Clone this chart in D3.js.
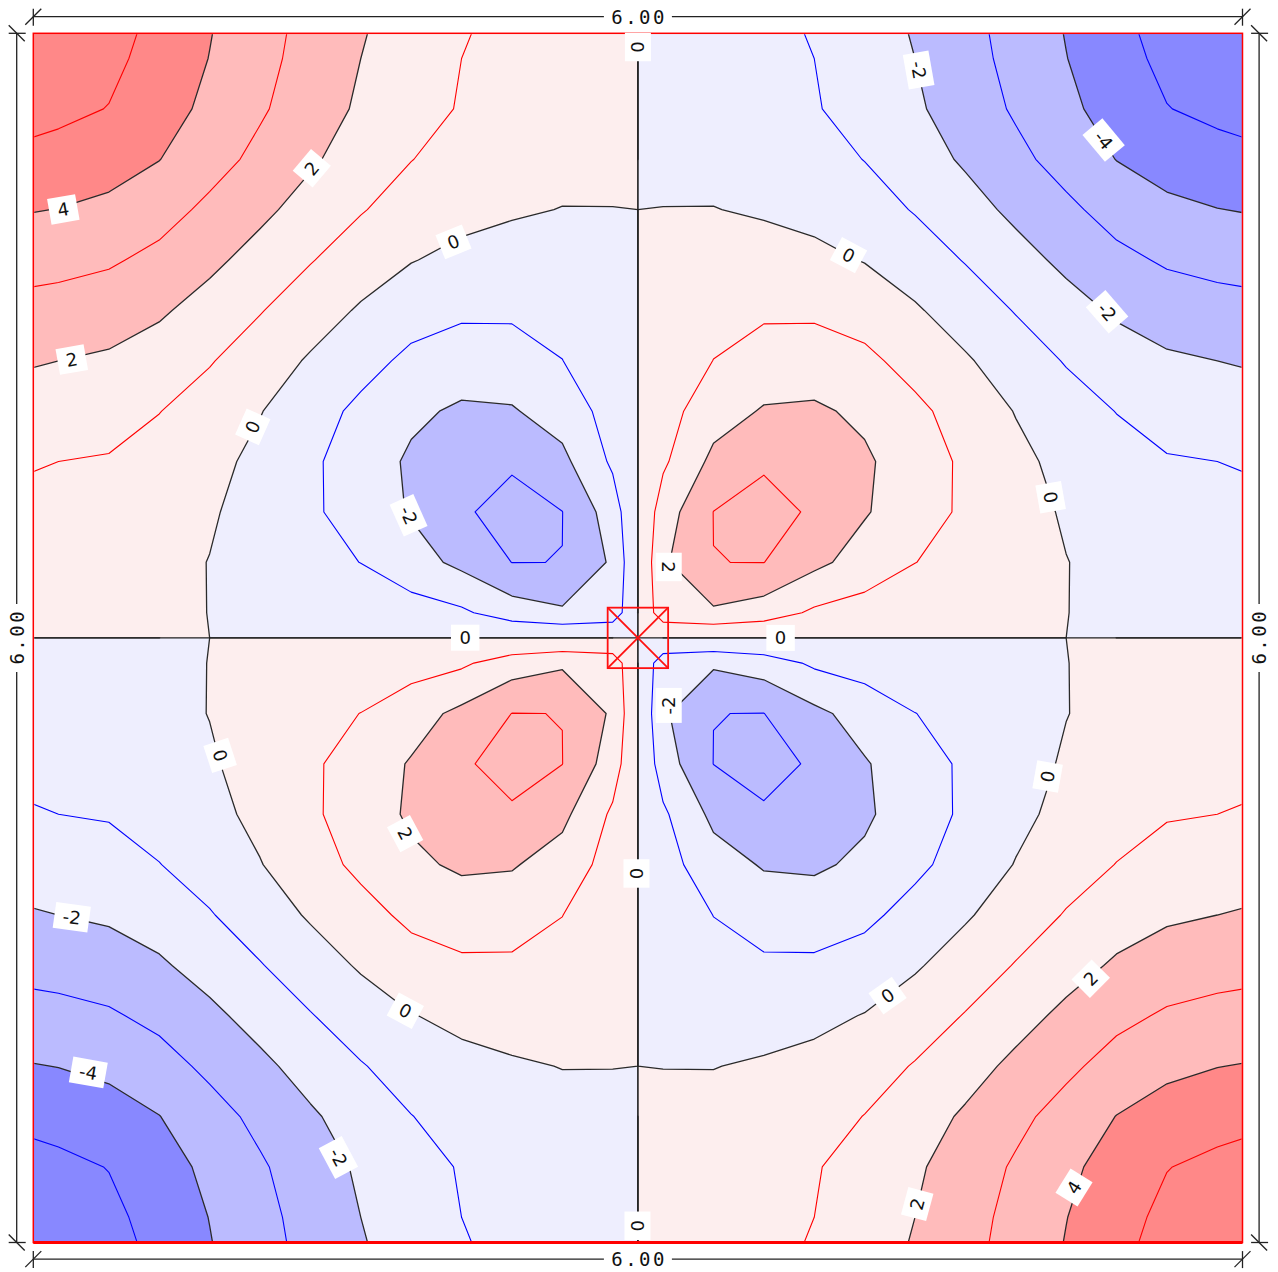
<!DOCTYPE html>
<html>
<head>
<meta charset="utf-8">
<script src="https://cdn.jsdelivr.net/npm/d3@7"></script>
<style>
	body { margin: 0; background: #fff; }
	svg { display: block; }
	.clabel text { font-family: "DejaVu Sans", sans-serif; font-size: 18px; fill: #111; }
	.dim text { font-family: "DejaVu Sans Mono", monospace; font-size: 19px; letter-spacing: 2.5px; fill: #111; }
</style>
</head>
<body>
<div id="chart"></div>
<script>
// plate and column, metres
var plateSize = 6.0;
var columnSize = 0.3;
var gridStep = 0.25;          // quarter values sit at cell centres
var dimText = "6.00";

// band limits and their colours (lowest band first)
var fillLevels = [-4, -2, 0, 2, 4];
var fillColours = ["#8888ff", "#bbbbff", "#eeeefe", "#fdeeee", "#ffbbbb", "#ff8888"];
var lineLevels = [-5, -4, -3, -2, -1, 0, 1, 2, 3, 4, 5];

// values read off the top-left quarter (row = from top, col = from left)
// the other quarters mirror it with the sign flipped across each axis,
// and the two centre lines are zero
var quarter = [
	[5.80, 5.25, 4.62, 3.98, 3.29, 2.64, 2.00, 1.50, 1.00, 0.74, 0.48, 0.15],
	[5.25, 4.97, 4.39, 3.79, 3.12, 2.47, 1.86, 1.37, 0.93, 0.67, 0.42, 0.13],
	[4.62, 4.39, 4.02, 3.38, 2.75, 2.13, 1.56, 1.02, 0.66, 0.44, 0.27, 0.08],
	[3.98, 3.79, 3.38, 2.79, 2.22, 1.62, 1.06, 0.60, 0.28, 0.10, -0.02, -0.005],
	[3.29, 3.12, 2.75, 2.22, 1.64, 1.05, 0.51, 0.04, -0.24, -0.37, -0.42, -0.16],
	[2.64, 2.47, 2.13, 1.62, 1.05, 0.48, -0.11, -0.61, -0.83, -0.84, -0.74, -0.28],
	[2.00, 1.86, 1.56, 1.06, 0.51, -0.11, -0.67, -1.21, -1.50, -1.44, -1.01, -0.42],
	[1.50, 1.37, 1.02, 0.60, 0.04, -0.61, -1.21, -1.82, -2.14, -2.08, -1.58, -0.60],
	[1.00, 0.93, 0.66, 0.28, -0.24, -0.83, -1.50, -2.14, -2.77, -2.78, -2.24, -0.84],
	[0.74, 0.67, 0.44, 0.10, -0.37, -0.84, -1.44, -2.08, -2.78, -3.60, -3.01, -1.50],
	[0.48, 0.42, 0.27, -0.02, -0.42, -0.74, -1.01, -1.58, -2.24, -3.01, -2.995, -1.85],
	[0.15, 0.13, 0.08, -0.005, -0.16, -0.28, -0.42, -0.60, -0.84, -1.50, -1.85, -1.60]
];

// values on the plate edge (top edge, corner outwards in), same on the left edge
var cornerValue = 6.10;
var edgeValues = [5.95, 5.37, 4.71, 4.04, 3.35, 2.69, 2.07, 1.55, 1.06, 0.76, 0.49, 0.16];

// contour labels: x, y (m), text, angle (deg)
var contourLabels = [
	[3.0, 0.068, "0", 90],
	[4.393, 0.182, "-2", 80],
	[5.311, 0.530, "-4", 50],
	[1.382, 0.670, "2", -50],
	[0.149, 0.874, "4", -10],
	[2.085, 1.035, "0", -22],
	[4.045, 1.101, "0", 28],
	[5.328, 1.382, "-2", 49],
	[0.191, 1.619, "2", -10],
	[1.089, 1.953, "0", -66],
	[5.048, 2.302, "0", 80],
	[1.862, 2.392, "-2", 66],
	[3.153, 2.648, "2", 90],
	[2.143, 2.999, "0", 0],
	[3.708, 3.000, "0", 0],
	[3.153, 3.335, "-2", -90],
	[0.927, 3.583, "0", 72],
	[5.033, 3.688, "0", -80],
	[1.845, 3.971, "2", 62],
	[2.993, 4.169, "0", 90],
	[0.191, 4.386, "-2", 8],
	[4.239, 4.775, "0", -35],
	[1.846, 4.850, "0", 28],
	[5.247, 4.691, "2", -45],
	[0.273, 5.156, "-4", 10],
	[1.514, 5.578, "-2", 62],
	[4.386, 5.809, "2", -75],
	[5.164, 5.727, "4", -58],
	[2.998, 5.917, "0", 90]
];

var width = 1278;
var height = 1272;
var eps = 1e-6;
var half = plateSize / 2;

var x = d3.scaleLinear().domain([0, plateSize]).range([33.3, 1242.5]);
var y = d3.scaleLinear().domain([0, plateSize]).range([33.3, 1242.5]);

var svg = d3.select("#chart")
	.append("svg")
	.attr("width", width)
	.attr("height", height);

// sample slots along one side: edge, quarter, centre line, mirrored quarter, edge
function buildSlots () {
	var n = quarter.length;
	var slots = [];
	slots.push({ kind: "edge", sign: 1, pos: 0 });
	for (var i = 0; i < n; i++) {
		slots.push({ kind: "q", q: i, sign: 1, pos: (i + 0.5) * gridStep });
	}
	slots.push({ kind: "axis", sign: 0, pos: half });
	for (var j = n - 1; j >= 0; j--) {
		slots.push({ kind: "q", q: j, sign: -1, pos: plateSize - (j + 0.5) * gridStep });
	}
	slots.push({ kind: "edge", sign: -1, pos: plateSize });
	return slots;
}

var slots = buildSlots();
var gridSize = slots.length;

function sampleAt (row, col) {
	if (row.kind === "axis" || col.kind === "axis") return 0;
	var s = row.sign * col.sign;
	if (row.kind === "edge" && col.kind === "edge") return s * cornerValue;
	if (row.kind === "edge") return s * edgeValues[col.q];
	if (col.kind === "edge") return s * edgeValues[row.q];
	return s * quarter[row.q][col.q];
}

function buildField () {
	var values = new Array(gridSize * gridSize);
	slots.forEach(function (row, r) {
		slots.forEach(function (col, c) {
			values[r * gridSize + c] = sampleAt(row, col);
		});
	});
	return values;
}

var values = buildField();

// grid coordinate (sample k at k + 0.5) -> metres, piecewise linear
var gridToPlate = d3.scaleLinear()
	.domain(slots.map(function (s, k) { return k + 0.5; }))
	.range(slots.map(function (s) { return s.pos; }));

var toPlate = d3.geoTransform({
	point: function (gx, gy) {
		this.stream.point(x(gridToPlate(gx)), y(gridToPlate(gy)));
	}
});
var path = d3.geoPath(toPlate);
var contourGen = d3.contours().size([gridSize, gridSize]);

// clips
var defs = svg.append("defs");
function addRect (sel, x0, y0, x1, y1) {
	sel.append("rect")
		.attr("x", x(x0)).attr("y", y(y0))
		.attr("width", x(x1) - x(x0))
		.attr("height", y(y1) - y(y0));
}
addRect(defs.append("clipPath").attr("id", "plate"), 0, 0, plateSize, plateSize);
defs.append("clipPath").attr("id", "inner")
	.append("rect")
	.attr("x", x(0) + 1).attr("y", y(0) + 1)
	.attr("width", x(plateSize) - x(0) - 2)
	.attr("height", y(plateSize) - y(0) - 2);

// the zero level lies on the centre lines: take it from below in the quarters
// with a negative ring, from above in the others (swapped next to the centre)
var cLo = half - gridStep / 2;
var cHi = half + gridStep / 2;
var zeroNeg = defs.append("clipPath").attr("id", "zeroNeg");
addRect(zeroNeg, 0, 0, half, cLo);
addRect(zeroNeg, 0, cLo, cLo, half);
addRect(zeroNeg, half, cHi, plateSize, plateSize);
addRect(zeroNeg, cHi, half, plateSize, cHi);
addRect(zeroNeg, half, cLo, cHi, half);
addRect(zeroNeg, cLo, half, half, cHi);
var zeroPos = defs.append("clipPath").attr("id", "zeroPos");
addRect(zeroPos, half, 0, plateSize, cLo);
addRect(zeroPos, cHi, cLo, plateSize, half);
addRect(zeroPos, 0, half, cLo, plateSize);
addRect(zeroPos, cLo, cHi, half, plateSize);
addRect(zeroPos, cLo, cLo, half, half);
addRect(zeroPos, half, half, cHi, cHi);

function levelPaths (parent, lv, attrs) {
	var parts = lv === 0
		? [[-eps, "url(#zeroNeg)"], [eps, "url(#zeroPos)"]]
		: [[lv, null]];
	parts.forEach(function (p) {
		var el = parent.append("path")
			.attr("d", path(contourGen.contour(values, p[0])));
		if (p[1]) el.attr("clip-path", p[1]);
		Object.keys(attrs).forEach(function (k) { el.attr(k, attrs[k]); });
	});
}

// bands
var bands = svg.append("g").attr("clip-path", "url(#plate)");
bands.append("rect")
	.attr("x", x(0)).attr("y", y(0))
	.attr("width", x(plateSize) - x(0))
	.attr("height", y(plateSize) - y(0))
	.attr("fill", fillColours[0]);

fillLevels.forEach(function (lv, i) {
	levelPaths(bands, lv, { "fill": fillColours[i + 1] });
});

// iso lines
var lines = svg.append("g").attr("clip-path", "url(#inner)");
lineLevels.forEach(function (lv) {
	var even = lv % 2 === 0;
	levelPaths(lines.append("g"), lv, {
		"fill": "none",
		"stroke": even ? "#2a2a2a" : (lv > 0 ? "#ff0000" : "#0000ff"),
		"stroke-width": even ? 1.3 : 1.1,
		"stroke-linejoin": "round"
	});
});

// zero along both centre lines
lines.append("line")
	.attr("x1", x(half)).attr("x2", x(half))
	.attr("y1", y(0)).attr("y2", y(plateSize))
	.attr("stroke", "#1e1e1e").attr("stroke-width", 1.6);
lines.append("line")
	.attr("x1", x(0)).attr("x2", x(plateSize))
	.attr("y1", y(half)).attr("y2", y(half))
	.attr("stroke", "#1e1e1e").attr("stroke-width", 1.4);

// column
var c0 = half - columnSize / 2;
var c1 = half + columnSize / 2;
var col = svg.append("g")
	.attr("stroke", "#ff1010")
	.attr("stroke-width", 1.8)
	.attr("fill", "none");
col.append("rect")
	.attr("x", x(c0)).attr("y", y(c0))
	.attr("width", x(c1) - x(c0)).attr("height", y(c1) - y(c0));
col.append("line").attr("x1", x(c0)).attr("y1", y(c0)).attr("x2", x(c1)).attr("y2", y(c1));
col.append("line").attr("x1", x(c1)).attr("y1", y(c0)).attr("x2", x(c0)).attr("y2", y(c1));

// plate edge
svg.append("rect")
	.attr("x", x(0)).attr("y", y(0))
	.attr("width", x(plateSize) - x(0))
	.attr("height", y(plateSize) - y(0))
	.attr("fill", "none")
	.attr("stroke", "#ff0000")
	.attr("stroke-width", 1.5);
svg.append("line")
	.attr("x1", x(0)).attr("x2", x(plateSize))
	.attr("y1", y(plateSize)).attr("y2", y(plateSize))
	.attr("stroke", "#ff0000")
	.attr("stroke-width", 3);

// labels on the lines
var lbl = svg.selectAll(".clabel")
	.data(contourLabels)
	.enter()
	.append("g")
	.classed("clabel", true)
	.attr("transform", function (d) {
		return "translate(" + x(d[0]) + "," + y(d[1]) + ") rotate(" + d[3] + ")";
	});

lbl.append("rect").attr("fill", "#fff");
lbl.append("text")
	.attr("text-anchor", "middle")
	.attr("dy", "0.36em")
	.text(function (d) { return d[2]; });
lbl.each(function () {
	var g = d3.select(this);
	var w = g.select("text").node().getComputedTextLength() + 17;
	var h = 26;
	g.select("rect")
		.attr("x", -w / 2).attr("y", -h / 2)
		.attr("width", w).attr("height", h);
});

// dimension lines
var dimOffset = 16.6;
var dims = svg.append("g").classed("dim", true);

function dimLine (vertical, at) {
	var g = dims.append("g");
	var a = vertical ? y(0) : x(0);
	var b = vertical ? y(plateSize) : x(plateSize);
	var mid = (a + b) / 2;
	var pt = function (along, across) {
		return vertical ? [at + across, along] : [along, at + across];
	};

	var line = function (p, q) {
		g.append("line")
			.attr("x1", p[0]).attr("y1", p[1])
			.attr("x2", q[0]).attr("y2", q[1])
			.attr("stroke", "#222")
			.attr("stroke-width", 1.3);
	};

	line(pt(a, 0), pt(mid - 34, 0));
	line(pt(mid + 34, 0), pt(b, 0));

	[a, b].forEach(function (e) {
		line(pt(e, -8), pt(e, 9));
		if (vertical) {
			line(pt(e - 8, -8), pt(e + 8, 8));
		} else {
			line(pt(e - 8, 8), pt(e + 8, -8));
		}
	});

	var p = pt(mid, 0);
	g.append("text")
		.attr("transform", "translate(" + p[0] + "," + p[1] + ")" + (vertical ? " rotate(-90)" : ""))
		.attr("text-anchor", "middle")
		.attr("dy", "0.36em")
		.attr("dx", 1.2)
		.text(dimText);
}

dimLine(false, y(0) - dimOffset);
dimLine(false, y(plateSize) + dimOffset);
dimLine(true, x(0) - dimOffset);
dimLine(true, x(plateSize) + dimOffset);
</script>
</body>
</html>
